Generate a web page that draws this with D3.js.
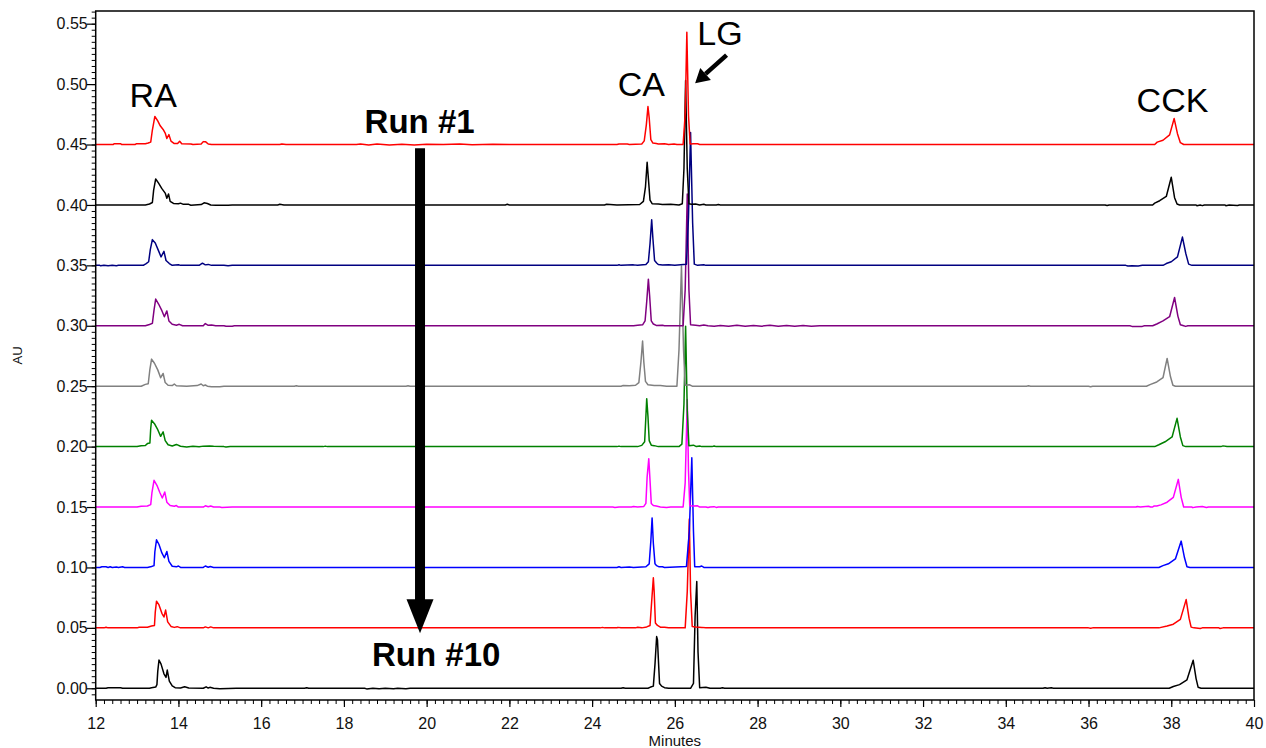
<!DOCTYPE html>
<html>
<head>
<meta charset="utf-8">
<script src="https://cdn.jsdelivr.net/npm/d3@7"></script>
<style>
  html, body { margin: 0; padding: 0; background: #fff; }
  svg { display: block; font-family: "Liberation Sans", Arial, sans-serif; }
</style>
</head>
<body>
<svg id="chart" width="1266" height="748"></svg>
<script>
// ---------------- DATA ----------------
const runNames   = ["Run 1","Run 2","Run 3","Run 4","Run 5","Run 6","Run 7","Run 8","Run 9","Run 10"];
const runOffsets = [0.45, 0.40, 0.35, 0.30, 0.25, 0.20, 0.15, 0.10, 0.05, 0.00];
const runColors  = ["#ff0000","#000000","#000080","#800080","#808080","#008000","#ff00ff","#0000ff","#ff0000","#000000"];
const xTicks = [12,14,16,18,20,22,24,26,28,30,32,34,36,38,40];
const yTicks = [0.00,0.05,0.10,0.15,0.20,0.25,0.30,0.35,0.40,0.45,0.50,0.55];

// each run: [minutes, signal above its own offset (AU)]
const run1 = [[12.0,0],[12.42,0],[12.45,0.0007],[12.6,0.0007],[12.63,0],[12.95,0],[12.98,0.0006],[13.2,0.0006],[13.27,0.0012],[13.33,0.002],[13.37,0.012],[13.43,0.0232],[13.5,0.0195],[13.56,0.0155],[13.63,0.0125],[13.68,0.0095],[13.72,0.005],[13.77,0.0082],[13.82,0.0028],[13.9,0.0008],[13.98,0.0008],[14.03,0.0027],[14.08,0.0006],[14.3,0.0005],[14.35,0],[14.55,0.0004],[14.6,0.0024],[14.66,0.0022],[14.72,0.0004],[14.8,0],[16.45,0],[16.5,0.0005],[16.6,0],[18.3,0],[18.4,0.0004],[18.6,-0.0003],[18.8,0.0004],[19.1,-0.0003],[19.4,0.0003],[19.7,-0.0004],[20.0,0.0003],[20.4,0],[20.8,0.0004],[21.1,-0.0002],[21.6,0.0003],[22.0,0],[24.6,0],[24.65,0.0004],[24.85,0.0004],[24.9,0],[25.2,0.0005],[25.26,0.003],[25.31,0.016],[25.35,0.0314],[25.38,0.022],[25.42,0.004],[25.47,0.0012],[25.55,0.0008],[25.6,0.0004],[25.75,0.0006],[25.85,0],[25.98,0.0005],[26.05,0],[26.2,0],[26.25,0.025],[26.29,0.0929],[26.33,0.024],[26.37,0.0005],[26.45,0.0006],[26.55,0.0006],[26.6,0],[37.6,0],[37.66,0.002],[37.8,0.0035],[37.96,0.008],[38.07,0.0215],[38.15,0.009],[38.22,0.0015],[38.3,0],[40,0]];
const run2 = [[12.0,0],[13.2,0],[13.3,0.0008],[13.37,0.002],[13.4,0.012],[13.45,0.0215],[13.52,0.018],[13.6,0.0135],[13.68,0.0098],[13.72,0.0055],[13.76,0.0091],[13.8,0.003],[13.88,0.0012],[14.0,0.001],[14.05,0.0015],[14.12,0.0005],[14.25,0.0005],[14.3,-0.0002],[14.55,0.0003],[14.62,0.0018],[14.7,0.0012],[14.78,0],[14.9,-0.0003],[15.2,-0.0003],[15.3,0],[16.4,0],[16.45,0.0005],[16.55,0],[21.9,0],[21.95,0.0005],[22.0,0],[24.3,0],[24.35,0.0005],[24.6,0],[25.15,0.0004],[25.24,0.003],[25.29,0.015],[25.33,0.0353],[25.36,0.022],[25.4,0.004],[25.45,0.001],[25.6,0.0008],[25.7,0.0004],[25.9,0.0006],[26.1,0],[26.18,0.001],[26.22,0.03],[26.26,0.103],[26.3,0.03],[26.34,0.001],[26.4,0.0005],[26.5,0.0008],[26.6,0],[26.7,0.0005],[26.75,0],[27.0,0],[27.05,0.0004],[27.1,0],[36.4,0],[36.45,-0.0005],[36.5,0],[37.55,0],[37.6,0.0015],[37.72,0.0035],[37.88,0.007],[38.0,0.0229],[38.08,0.006],[38.14,0.0008],[38.2,0],[38.6,0],[38.62,-0.0006],[38.7,0],[38.75,-0.0006],[38.8,0],[39.3,0],[39.32,-0.0006],[39.4,0],[39.6,-0.0005],[39.65,0],[40,0]];
const run3 = [[12.0,0],[12.1,0],[12.12,-0.0004],[12.2,0],[12.3,-0.0004],[12.4,0],[12.5,-0.0003],[12.55,0],[13.15,0],[13.22,0.0015],[13.28,0.003],[13.32,0.013],[13.37,0.0213],[13.44,0.0185],[13.52,0.012],[13.58,0.007],[13.65,0.0116],[13.7,0.004],[13.78,0.0015],[13.85,0],[14.0,0.0005],[14.05,0],[14.5,0],[14.58,0.0018],[14.65,0.0004],[14.72,0.0008],[14.8,0],[15.1,0],[15.2,-0.0004],[15.3,0],[24.6,0],[24.65,0.0005],[24.7,0],[25.0,0.0004],[25.1,0],[25.3,0.0008],[25.36,0.003],[25.4,0.018],[25.44,0.0378],[25.47,0.022],[25.51,0.004],[25.56,0.002],[25.6,0.0007],[25.7,0.0003],[25.85,0.0005],[26.0,0],[26.28,0.001],[26.33,0.04],[26.38,0.11],[26.43,0.035],[26.47,0.001],[26.55,0],[26.7,0.0005],[26.75,0],[36.9,0],[36.95,-0.0005],[37.05,-0.0004],[37.2,-0.0005],[37.3,0],[37.8,0],[37.88,0.0015],[38.0,0.003],[38.15,0.007],[38.27,0.0234],[38.35,0.01],[38.42,0.001],[38.5,0],[40,0]];
const run4 = [[12.0,0],[13.2,0],[13.3,0.001],[13.37,0.002],[13.41,0.013],[13.45,0.0221],[13.52,0.018],[13.6,0.0125],[13.66,0.0075],[13.72,0.0123],[13.77,0.004],[13.85,0.0012],[13.95,0.0005],[14.02,0.0012],[14.1,0],[14.6,0],[14.65,0.0018],[14.72,0.0004],[14.8,0.0007],[14.9,0],[15.1,0],[15.15,-0.0004],[15.3,-0.0004],[15.35,0],[25.0,0],[25.1,0.0004],[25.22,0.0008],[25.28,0.004],[25.32,0.02],[25.36,0.0386],[25.39,0.025],[25.43,0.004],[25.48,0.0015],[25.55,0.0003],[25.7,0.0005],[25.75,0],[26.2,0],[26.25,0.03],[26.3,0.109],[26.34,0.03],[26.38,0.0008],[26.5,0.0005],[26.6,0],[26.7,0.0006],[26.8,0],[26.95,-0.0004],[27.1,0.0003],[27.3,-0.0004],[27.5,0.0004],[27.7,-0.0004],[27.9,0.0003],[28.1,-0.0003],[28.3,0.0004],[28.5,-0.0003],[28.7,0.0003],[28.9,-0.0004],[29.1,0.0003],[29.3,-0.0003],[29.5,0],[37.0,0],[37.05,-0.0005],[37.3,-0.0005],[37.35,0],[37.55,0],[37.65,0.0015],[37.8,0.004],[37.96,0.0075],[38.08,0.0234],[38.16,0.008],[38.22,0.0008],[38.3,0],[38.35,-0.0005],[38.4,0],[40,0]];
const run5 = [[12.0,0],[13.1,0],[13.2,0.0015],[13.27,0.002],[13.31,0.014],[13.35,0.0224],[13.42,0.019],[13.5,0.0135],[13.57,0.007],[13.63,0.0105],[13.68,0.003],[13.75,0.0008],[13.85,0.0005],[13.9,0.0018],[13.95,0.0004],[14.2,0],[14.45,0.0005],[14.55,0.0018],[14.6,0.0004],[14.65,0.001],[14.7,0],[14.8,-0.0005],[15.0,-0.0005],[15.1,0],[16.8,0],[16.85,0.0004],[16.9,0],[19.5,0],[19.55,0.0004],[19.6,0],[24.7,0],[24.75,0.0005],[24.9,0.0004],[25.05,0.0008],[25.13,0.003],[25.18,0.02],[25.22,0.0373],[25.25,0.02],[25.29,0.004],[25.35,0.0012],[25.5,0.0005],[25.65,0.0006],[25.8,0],[26.05,0],[26.1,0.03],[26.16,0.0995],[26.21,0.03],[26.25,0.0008],[26.35,0.0012],[26.42,0],[34.5,0],[34.55,0.0004],[34.6,0],[36.0,0],[36.05,-0.0004],[36.1,0],[37.4,0],[37.5,0.0015],[37.65,0.0035],[37.8,0.007],[37.9,0.023],[37.98,0.008],[38.04,0.0008],[38.1,0],[40,0]];
const run6 = [[12.0,0],[13.0,0],[13.1,0.0007],[13.2,0.0009],[13.25,0.0025],[13.31,0.003],[13.33,0.015],[13.35,0.0218],[13.42,0.019],[13.5,0.014],[13.57,0.0085],[13.63,0.0122],[13.68,0.005],[13.75,0.0015],[13.85,0.0005],[13.95,0.0018],[14.05,0.0003],[14.2,-0.0003],[14.35,0.0003],[14.5,-0.0002],[14.6,0.0004],[14.75,0.0005],[14.85,0.0002],[15.1,0],[15.15,-0.0004],[15.25,0],[17.5,0],[17.55,0.0004],[17.6,0],[24.6,0],[24.65,0.0004],[24.7,0],[25.1,0],[25.2,0.001],[25.27,0.004],[25.3,0.025],[25.32,0.0397],[25.35,0.025],[25.38,0.005],[25.43,0.0012],[25.5,0.0008],[25.6,0],[26.1,0],[26.17,0.002],[26.22,0.035],[26.26,0.0997],[26.3,0.03],[26.34,0.0008],[26.45,0.0012],[26.52,0],[26.6,0.0005],[26.65,0],[26.9,0],[26.95,0.0005],[27.0,0],[37.6,0],[37.7,0.0015],[37.85,0.004],[38.02,0.008],[38.14,0.0234],[38.22,0.008],[38.28,0.0008],[38.35,0],[39.2,0],[39.25,0.0006],[39.35,0],[40,0]];
const run7 = [[12.0,0],[13.0,0],[13.1,0.0007],[13.25,0.0008],[13.33,0.002],[13.36,0.012],[13.41,0.0221],[13.48,0.018],[13.55,0.012],[13.61,0.0075],[13.67,0.0124],[13.72,0.004],[13.8,0.0012],[13.9,0.0006],[13.95,0.0012],[14.0,0],[14.6,0],[14.65,0.001],[14.72,0.0002],[14.78,0.0008],[14.85,0],[15.0,0],[15.05,-0.0003],[15.3,0],[24.5,0],[24.55,-0.0004],[24.65,0],[24.95,0],[25.0,0.0005],[25.1,0],[25.25,0.0005],[25.3,0.003],[25.33,0.025],[25.37,0.04],[25.4,0.022],[25.43,0.003],[25.48,0.0012],[25.55,0.0008],[25.65,0],[25.8,-0.0004],[25.9,0],[26.2,0],[26.25,0.02],[26.3,0.089],[26.33,0.03],[26.36,0.001],[26.45,0.0008],[26.55,0.001],[26.6,0],[26.75,0],[26.8,-0.0004],[26.85,0],[26.95,0.0003],[27.0,-0.0003],[27.05,0],[37.15,0],[37.18,0.0005],[37.25,0],[37.45,0.0006],[37.5,0],[37.55,0],[37.58,0.0008],[37.65,0.0008],[37.75,0.0018],[37.9,0.004],[38.05,0.008],[38.17,0.0229],[38.24,0.008],[38.3,0],[38.5,0],[38.52,-0.0005],[38.6,0],[38.75,0.0004],[38.85,-0.0004],[38.9,0],[40,0]];
const run8 = [[12.0,0],[12.1,0],[12.15,0.0006],[12.25,0.0006],[12.3,0],[12.35,0.0005],[12.4,0],[12.5,0.0004],[12.55,0],[12.65,0.0005],[12.7,0],[13.25,0],[13.35,0.0008],[13.41,0.0015],[13.43,0.013],[13.47,0.0229],[13.53,0.019],[13.6,0.012],[13.66,0.008],[13.72,0.0132],[13.77,0.005],[13.85,0.001],[13.95,0.0005],[14.0,0.0012],[14.05,0],[14.6,0],[14.65,0.0012],[14.72,0.0002],[14.77,0.0008],[14.85,0],[24.6,0],[24.65,0.0005],[24.7,0],[24.9,0.0004],[25.0,0],[25.3,0.0006],[25.38,0.003],[25.42,0.022],[25.45,0.041],[25.48,0.02],[25.52,0.003],[25.56,0.0015],[25.62,0.0005],[25.7,0.0005],[25.75,0],[26.28,0.0008],[26.35,0.03],[26.41,0.0907],[26.45,0.03],[26.48,0.0005],[26.6,0.0006],[26.65,0.0012],[26.7,0],[37.7,0],[37.8,0.0015],[37.93,0.003],[38.1,0.007],[38.24,0.0218],[38.32,0.008],[38.38,0.0006],[38.45,0],[40,0]];
const run9 = [[12.0,0],[12.2,0],[12.25,0.0005],[12.3,0],[13.0,0],[13.05,0.0005],[13.25,0.0005],[13.35,0.0015],[13.42,0.002],[13.44,0.013],[13.47,0.0221],[13.53,0.019],[13.6,0.012],[13.65,0.009],[13.69,0.0147],[13.74,0.005],[13.82,0.0012],[13.9,0.0004],[13.97,0.001],[14.05,0],[14.6,0],[14.65,0.0008],[14.72,0],[14.78,0.0008],[14.85,0],[24.2,0],[24.25,0.0004],[24.3,0],[24.6,0],[24.62,0.0004],[24.7,0],[25.05,0],[25.1,0.0005],[25.2,0],[25.32,0.0008],[25.4,0.002],[25.44,0.022],[25.48,0.0414],[25.5,0.03],[25.53,0.004],[25.58,0.002],[25.65,0.0006],[25.75,0.0005],[25.85,0],[26.25,0],[26.3,0.03],[26.35,0.09],[26.38,0.03],[26.42,0.0012],[26.5,0.0008],[26.58,0.0006],[26.65,0.0004],[26.75,0],[36.0,0],[36.05,-0.0004],[36.1,0],[37.7,0],[37.9,0.0015],[38.05,0.003],[38.22,0.007],[38.36,0.0234],[38.43,0.008],[38.48,0.0006],[38.55,0],[38.7,-0.0005],[38.75,0],[39.15,0],[39.18,-0.0005],[39.25,0],[40,0]];
const run10 = [[12.0,0],[12.25,0],[12.3,0.0004],[12.6,0.0004],[12.65,0],[13.3,0],[13.35,0.0005],[13.45,0.001],[13.48,0.003],[13.5,0.014],[13.53,0.0234],[13.58,0.02],[13.65,0.012],[13.7,0.009],[13.73,0.0151],[13.78,0.006],[13.85,0.002],[13.92,0.0005],[14.05,0.0003],[14.15,0.0012],[14.25,0.0002],[14.6,0],[14.67,0.0012],[14.72,0.0002],[14.76,0.0008],[14.85,0],[15.0,-0.0003],[15.4,0],[17.05,0],[17.1,0.0005],[17.15,0],[18.5,0],[18.55,-0.0005],[18.7,0],[18.85,-0.0004],[19.0,0],[19.2,-0.0004],[19.3,0],[19.5,-0.0003],[19.6,0],[24.7,0],[24.75,0.0004],[24.8,0],[25.35,0],[25.4,0.0008],[25.48,0.0018],[25.52,0.02],[25.56,0.0428],[25.58,0.04],[25.6,0.025],[25.63,0.004],[25.68,0.0018],[25.75,0.0005],[25.85,0],[26.38,0],[26.45,0.004],[26.49,0.06],[26.53,0.0883],[26.56,0.03],[26.6,0.0005],[26.75,0.0008],[26.85,0],[27.1,0],[27.15,0.0005],[27.2,0],[34.9,0],[34.95,0.0005],[35.0,0],[35.1,0.0004],[35.15,0],[37.95,0],[38.05,0.0015],[38.2,0.003],[38.38,0.007],[38.53,0.0232],[38.6,0.008],[38.65,0.0008],[38.72,0],[40,0]];
const runData = [run1, run2, run3, run4, run5, run6, run7, run8, run9, run10];

// peak labels: [text, minutes, AU (baseline of text)]
const peakLabels = [["RA",13.39,0.481],["CA",25.19,0.490],["LG",27.09,0.532],["CCK",38.03,0.4766]];
// LG pointer arrow: tail -> tip  (minutes, AU)
const lgArrow = [[27.25,0.524],[26.49,0.5007]];
// run direction arrow and labels
const runArrow = [[19.84,0.4469],[19.84,0.0455]];
const runLabels = [["Run #1",19.83,0.4598],["Run #10",20.23,0.0185]];

// ---------------- LAYOUT ----------------
const svg = d3.select("#chart");
const L = 95.7, R = 1254, T = 11, B = 700;
const x = d3.scaleLinear().domain([12, 40]).range([L, R]);
const y = d3.scaleLinear().domain([-0.0097, 0.5605]).range([B, T]);
const font = "'Liberation Sans', Arial, sans-serif";

// traces (run 10 first so run 1 ends on top)
const line = d3.line().x(d => x(d[0])).y(d => y(d[1]));
svg.append("clipPath").attr("id","plotclip").append("rect")
  .attr("x", L).attr("y", T).attr("width", R - L).attr("height", B - T);
const tracesG = svg.append("g").attr("clip-path","url(#plotclip)");
for (let i = runData.length - 1; i >= 0; i--) {
  const off = runOffsets[i];
  tracesG.append("path")
    .datum(runData[i].map(p => [p[0], p[1] + off]))
    .attr("d", line)
    .attr("fill","none")
    .attr("stroke", runColors[i])
    .attr("stroke-width", 1.5)
    .attr("stroke-linejoin","round");
}

// frame
svg.append("rect").attr("x", L).attr("y", T).attr("width", R - L).attr("height", B - T)
  .attr("fill","none").attr("stroke","#000").attr("stroke-width",1.5);

// x axis minor + major
svg.append("g").attr("transform",`translate(0,${B})`)
  .call(d3.axisBottom(x).tickValues(x.ticks(140)).tickSize(4).tickFormat(""))
  .call(g => { g.select(".domain").remove(); g.selectAll("line").attr("stroke","#000").attr("stroke-width",1); });
svg.append("g").attr("transform",`translate(0,${B})`)
  .call(d3.axisBottom(x).tickValues(xTicks).tickSize(7).tickPadding(11).tickFormat(d3.format("d")))
  .call(g => {
    g.select(".domain").remove();
    g.selectAll("line").attr("stroke","#000").attr("stroke-width",1.2);
    g.selectAll("text").attr("font-family",font).attr("font-size",16).attr("fill","#111");
  });

// y axis minor + major
svg.append("g").attr("transform",`translate(${L},0)`)
  .call(d3.axisLeft(y).tickValues(y.ticks(114)).tickSize(4).tickFormat(""))
  .call(g => { g.select(".domain").remove(); g.selectAll("line").attr("stroke","#000").attr("stroke-width",1); });
svg.append("g").attr("transform",`translate(${L},0)`)
  .call(d3.axisLeft(y).tickValues(yTicks).tickSize(9).tickPadding(0).tickFormat(d3.format(".2f")))
  .call(g => {
    g.select(".domain").remove();
    g.selectAll("line").attr("stroke","#000").attr("stroke-width",1.2);
    g.selectAll("text").attr("font-family",font).attr("font-size",16).attr("fill","#111").attr("x",-8);
  });

// axis titles
svg.append("text").attr("x", (L + R) / 2).attr("y", 746).attr("text-anchor","middle")
  .attr("font-family",font).attr("font-size",15).attr("fill","#111").text("Minutes");
svg.append("text").attr("transform",`translate(22,${(T + B) / 2}) rotate(-90)`).attr("text-anchor","middle")
  .attr("font-family",font).attr("font-size",13).attr("fill","#111").text("AU");

// peak labels
svg.append("g").selectAll("text").data(peakLabels).join("text")
  .attr("x", d => x(d[1])).attr("y", d => y(d[2])).attr("text-anchor","middle")
  .attr("font-family",font).attr("font-size",34).attr("fill","#000").text(d => d[0]);

// LG arrow
const lx1 = x(lgArrow[0][0]), ly1 = y(lgArrow[0][1]), lx2 = x(lgArrow[1][0]), ly2 = y(lgArrow[1][1]);
const ang = Math.atan2(ly2 - ly1, lx2 - lx1);
const headLen = 14, headW = 8;
const bx = lx2 - headLen * Math.cos(ang), by = ly2 - headLen * Math.sin(ang);
svg.append("line").attr("x1", lx1).attr("y1", ly1).attr("x2", bx).attr("y2", by)
  .attr("stroke","#000").attr("stroke-width",4.5);
svg.append("path").attr("fill","#000").attr("d",
  `M${lx2},${ly2} L${bx + headW * Math.sin(ang)},${by - headW * Math.cos(ang)} L${bx - headW * Math.sin(ang)},${by + headW * Math.cos(ang)} Z`);

// run arrow
const ax = x(runArrow[0][0]), ay1 = y(runArrow[0][1]), ay2 = y(runArrow[1][1]);
const rHead = 34, rHalf = 13.5;
svg.append("rect").attr("x", ax - 5).attr("y", ay1).attr("width", 10).attr("height", ay2 - rHead - ay1 + 1).attr("fill","#000");
svg.append("path").attr("fill","#000").attr("d",
  `M${ax},${ay2} L${ax - rHalf},${ay2 - rHead} L${ax + rHalf},${ay2 - rHead} Z`);

// run labels
svg.append("g").selectAll("text").data(runLabels).join("text")
  .attr("x", d => x(d[1])).attr("y", d => y(d[2])).attr("text-anchor","middle")
  .attr("font-family",font).attr("font-size",33).attr("font-weight","bold").attr("fill","#000").text(d => d[0]);
</script>
</body>
</html>
